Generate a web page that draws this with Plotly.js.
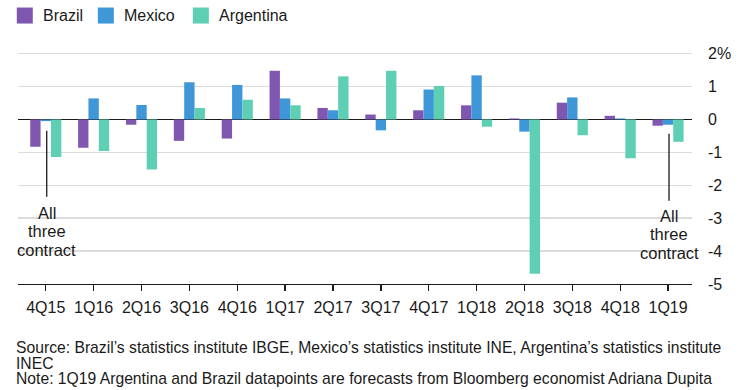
<!DOCTYPE html>
<html>
<head>
<meta charset="utf-8">
<script src="https://cdn.plot.ly/plotly-3.0.1.min.js"></script>
<style>
html,body{margin:0;padding:0;background:#fff;}
#chart{width:742px;height:390px;}
</style>
</head>
<body>
<div id="chart"></div>
<script>
var categories = ["4Q15","1Q16","2Q16","3Q16","4Q16","1Q17","2Q17","3Q17","4Q17","1Q18","2Q18","3Q18","4Q18","1Q19"];
var brazil    = [-0.83,-0.86,-0.16,-0.65,-0.58, 1.48, 0.35, 0.15, 0.28, 0.43, 0.03, 0.51, 0.11,-0.19];
var mexico    = [-0.05, 0.64, 0.44, 1.13, 1.05, 0.64, 0.28,-0.33, 0.91, 1.34,-0.37, 0.67, 0.03,-0.16];
var argentina = [-1.14,-0.96,-1.52, 0.35, 0.60, 0.43, 1.31, 1.48, 1.02,-0.22,-4.69,-0.48,-1.18,-0.68];
var seriesNames = ["Brazil","Mexico","Argentina"];
var seriesColors = ["#7f57b1","#3f97d8","#5ecfb2"];
var yTickVals = [2,1,0,-1,-2,-3,-4,-5];
var yTickText = ["2%","1","0","-1","-2","-3","-4","-5"];
var calloutLines = ["All","three","contract"];
var sourceLines = [
  "Source: Brazil\u2019s statistics institute IBGE, Mexico\u2019s statistics institute INE, Argentina\u2019s statistics institute",
  "INEC",
  "Note: 1Q19 Argentina and Brazil datapoints are forecasts from Bloomberg economist Adriana Dupita"
];

var FONT = "Liberation Sans, Arial, Helvetica, sans-serif";
var INK = "#1a1a1a";
var allSeries = [brazil, mexico, argentina];
var traces = allSeries.map(function(vals, i){
  return {type:"bar", x:categories, y:vals, name:seriesNames[i],
          marker:{color:seriesColors[i], line:{width:0}}, showlegend:false, hoverinfo:"skip"};
});

var W = 742, H = 390, mL = 18.2, mR = 50, mT = 52.4, mB = 106;
var pw = W - mL - mR, ph = H - mT - mB;
function px2paperX(p){ return (p - mL) / pw; }
function px2paperY(p){ return (H - mB - p) / ph; }

var shapes = [];
var annotations = [];
// custom legend
var legX = [17, 98, 193];
seriesNames.forEach(function(n, i){
  shapes.push({type:"rect", xref:"paper", yref:"paper", line:{width:0},
    fillcolor:seriesColors[i],
    x0:px2paperX(legX[i]), x1:px2paperX(legX[i]+16),
    y0:px2paperY(24), y1:px2paperY(8)});
  annotations.push({xref:"paper", yref:"paper", x:px2paperX(legX[i]+24), y:px2paperY(16),
    xanchor:"left", yanchor:"middle", showarrow:false, text:n,
    font:{family:FONT, size:16, color:INK}});
});
// "All three contract" callouts: [category index, line top px, line bottom px, first text center px]
[[0, 131, 197, 213], [13, 134, 201, 216]].forEach(function(c){
  shapes.push({type:"line", xref:"x", yref:"paper", x0:c[0]+0.02, x1:c[0]+0.02,
    y0:px2paperY(c[1]), y1:px2paperY(c[2]), line:{color:INK, width:1.3}});
  calloutLines.forEach(function(t, j){
    annotations.push({xref:"x", yref:"paper", x:c[0]+0.02, y:px2paperY(c[3] + j*18.3),
      xanchor:"center", yanchor:"middle", showarrow:false, text:t,
      font:{family:FONT, size:16.5, color:INK}});
  });
});
// source lines
[347.5, 363, 378.5].forEach(function(yc, j){
  annotations.push({xref:"paper", yref:"paper", x:px2paperX(14), y:px2paperY(yc),
    xanchor:"left", yanchor:"middle", showarrow:false, text:sourceLines[j],
    font:{family:FONT, size:15.7, color:INK}});
});

var layout = {
  width:W, height:H,
  margin:{l:mL, r:mR, t:mT, b:mB, pad:0},
  paper_bgcolor:"#fff", plot_bgcolor:"#fff",
  barmode:"group", bargap:0.35, bargroupgap:0,
  showlegend:false,
  xaxis:{type:"category", range:[-0.58, 13.5], showgrid:false, zeroline:false,
    showline:true, linecolor:INK, linewidth:1.3,
    ticks:"outside", ticklen:6, tickwidth:1.3, tickcolor:INK, ticklabelstandoff:2,
    tickfont:{family:FONT, size:16, color:INK}, fixedrange:true},
  yaxis:{side:"right", range:[-5, 2.05], tickmode:"array", tickvals:yTickVals, ticktext:yTickText,
    showgrid:true, gridcolor:"#dcdcdc", gridwidth:1.5,
    zeroline:true, zerolinecolor:INK, zerolinewidth:1.3,
    showline:false, ticks:"", ticklabelstandoff:15,
    tickfont:{family:FONT, size:16, color:INK}, fixedrange:true},
  shapes:shapes, annotations:annotations,
  font:{family:FONT}
};
Plotly.newPlot("chart", traces, layout, {staticPlot:true, displayModeBar:false});
</script>
</body>
</html>
